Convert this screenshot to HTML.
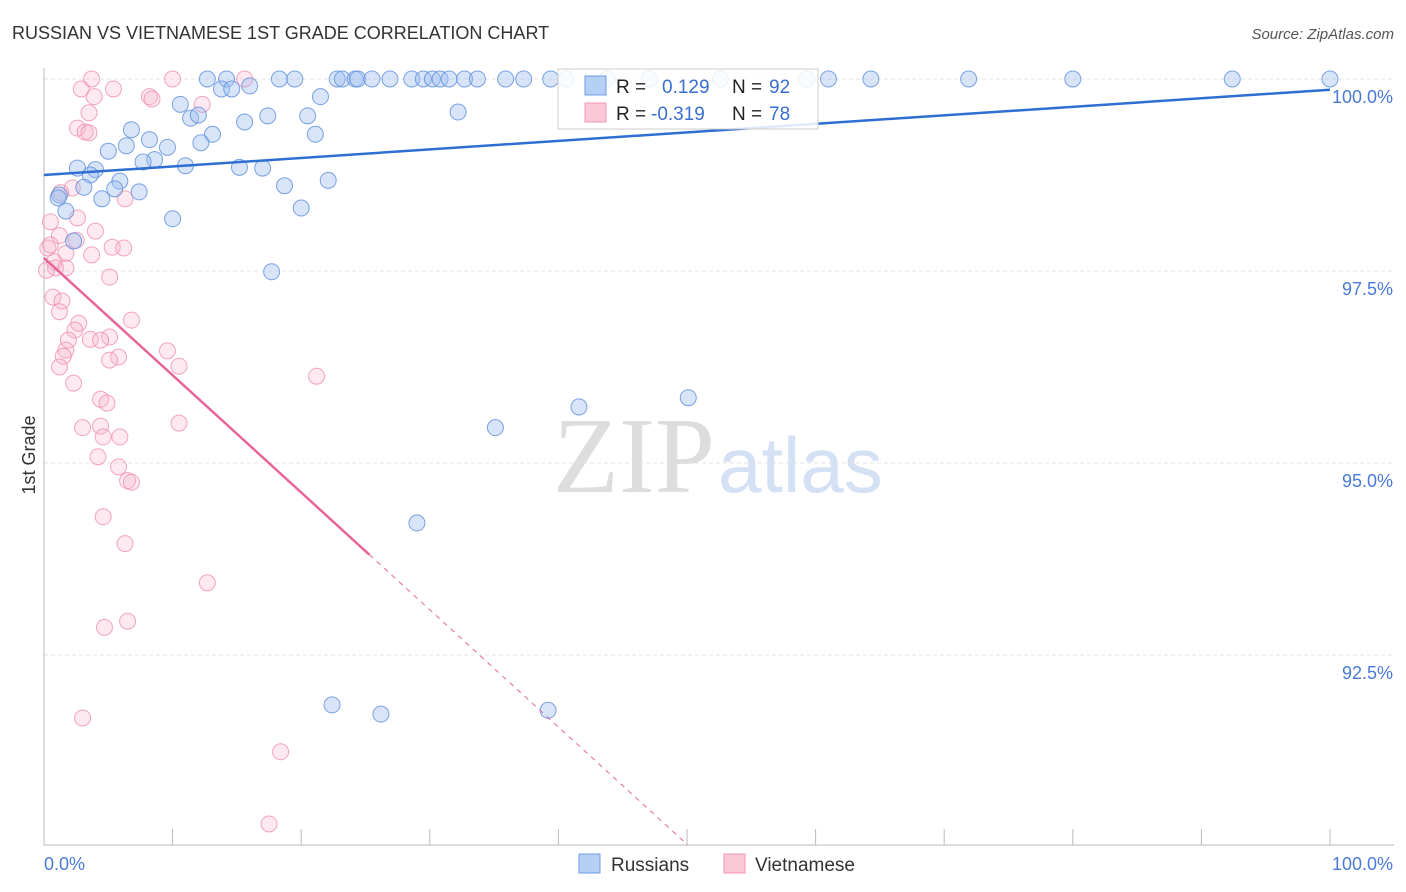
<!DOCTYPE html>
<html><head><meta charset="utf-8"><style>
body{margin:0;background:#fff;font-family:"Liberation Sans",sans-serif;}
svg{display:block}
</style></head><body>
<svg id="chart" width="1406" height="892">
<text x="12" y="39" font-size="18" fill="#333">RUSSIAN VS VIETNAMESE 1ST GRADE CORRELATION CHART</text>
<text x="1394" y="39" font-size="15" fill="#555" font-style="italic" text-anchor="end">Source: ZipAtlas.com</text>
<text x="35" y="455" font-size="18" fill="#333" transform="rotate(-90 35 455)" text-anchor="middle">1st Grade</text>
<g>
<text x="553" y="492" font-size="108" fill="#ddd" font-family="Liberation Serif,serif">ZIP</text>
<text x="718" y="492" font-size="78" fill="#d4e1f5">atlas</text>
</g>
<g id="grid"></g><g id="marks"></g><g id="trends"></g>
<g>
<rect x="558" y="69" width="260" height="60" fill="#fff" fill-opacity="0.85" stroke="#ccc"/>
<rect x="585" y="76" width="21" height="19" fill="#b5cff5" stroke="#6e9ee6"/>
<rect x="585" y="103" width="21" height="19" fill="#fbc8d8" stroke="#f09ab5"/>
<text x="616" y="93" font-size="19" fill="#222">R = </text><text x="662" y="93" font-size="19" fill="#3a6fd0">0.129</text>
<text x="732" y="93" font-size="19" fill="#222">N = </text><text x="769" y="93" font-size="19" fill="#3a6fd0">92</text>
<text x="616" y="120" font-size="19" fill="#222">R = </text><text x="651" y="120" font-size="19" fill="#3a6fd0">-0.319</text>
<text x="732" y="120" font-size="19" fill="#222">N = </text><text x="769" y="120" font-size="19" fill="#3a6fd0">78</text>
</g>
<g>
<rect x="579" y="854" width="21" height="19" fill="#b5cff5" stroke="#6e9ee6"/>
<text x="611" y="871" font-size="19" fill="#333">Russians</text>
<rect x="724" y="854" width="21" height="19" fill="#fbc8d8" stroke="#f09ab5"/>
<text x="755" y="871" font-size="19" fill="#333">Vietnamese</text>
</g>
</svg>
<script>
const yTicks=[100,97.5,95,92.5];
const yTickLabels=["100.0%","97.5%","95.0%","92.5%"];
const xTickVals=[0,10,20,30,40,50,60,70,80,90,100];
const blueX=[12.7,14.2,18.3,19.5,22.8,23.2,24.2,24.4,25.5,26.9,28.6,29.5,30.2,30.8,31.5,32.7,33.7,35.9,37.3,39.4,40.6,43.8,47.1,52.6,59.3,61.0,64.3,71.9,80.0,92.4,100,16.0,13.8,14.6,21.5,10.6,32.2,20.5,17.4,11.4,12.0,15.6,6.8,13.1,21.1,8.2,6.4,9.6,12.2,5.0,8.6,7.7,11.0,2.6,4.0,15.2,17.0,3.6,5.9,22.1,18.7,3.1,5.5,7.4,1.2,1.1,4.5,20.0,1.7,10.0,2.3,17.7,41.6,50.1,35.1,29.0,22.4,26.2,39.2];
const blueY=[100,100,100,100,100,100,100,100,100,100,100,100,100,100,100,100,100,100,100,100,100,100,100,100,100,100,100,100,100,100,100,99.91,99.87,99.87,99.77,99.67,99.57,99.52,99.52,99.49,99.53,99.44,99.34,99.28,99.28,99.21,99.13,99.11,99.17,99.06,98.95,98.92,98.87,98.84,98.82,98.85,98.84,98.75,98.67,98.68,98.61,98.59,98.57,98.53,98.49,98.45,98.44,98.32,98.28,98.18,97.89,97.49,95.73,95.85,95.46,94.22,91.85,91.73,91.78];
const pinkX=[3.7,10.0,15.6,5.4,2.9,3.9,8.2,8.4,12.3,3.5,2.6,3.2,3.5,2.2,6.3,1.3,0.5,2.6,4.0,1.2,2.5,0.3,5.3,6.2,1.7,3.7,0.8,0.9,1.7,5.1,0.7,1.4,1.2,6.8,2.7,2.4,3.6,1.9,5.1,4.4,1.7,1.5,9.6,5.8,5.1,1.2,10.5,21.2,2.3,4.4,4.9,10.5,3.0,4.4,4.6,5.9,4.2,5.8,6.5,6.8,4.6,6.3,12.7,4.7,6.5,3.0,18.4,17.5,0.5,0.2];
const pinkY=[100,100,100,99.87,99.87,99.77,99.77,99.74,99.67,99.56,99.36,99.31,99.30,98.58,98.44,98.52,98.14,98.19,98.02,97.96,97.90,97.80,97.81,97.80,97.73,97.71,97.62,97.54,97.54,97.42,97.16,97.11,96.97,96.86,96.82,96.73,96.61,96.60,96.64,96.60,96.47,96.39,96.46,96.38,96.34,96.25,96.26,96.13,96.04,95.83,95.78,95.52,95.46,95.48,95.34,95.34,95.08,94.95,94.77,94.75,94.30,93.95,93.44,92.86,92.94,91.68,91.24,90.30,97.84,97.51];
const blueTrend=[98.75,99.86];
const pinkTrend=[97.67,82.4];
const pinkSolidEnd=25.3;

const NS="http://www.w3.org/2000/svg";
const X0=44,X1=1330,Y100=79,PX=76.8;
function sx(v){return X0+(X1-X0)*v/100;}
function sy(v){return Y100+(100-v)*PX;}
function mk(tag,attrs,parent){const e=document.createElementNS(NS,tag);for(const k in attrs)e.setAttribute(k,attrs[k]);parent.appendChild(e);return e;}
const grid=document.getElementById('grid');
yTicks.forEach((t,i)=>{
  const l=mk('line',{x1:X0,x2:1394,y1:sy(t),y2:sy(t),stroke:'#e3e3e3','stroke-dasharray':'4,3'},grid);
  
  
  const tx=mk('text',{x:1393,y:sy(t)+24,'font-size':18,fill:'#4a7ad8','text-anchor':'end'},grid);
  tx.textContent=yTickLabels[i];
  
  
});
const ax=mk('line',{x1:X0,x2:X0,y1:68,y2:845,stroke:'#bbb'},grid);


const bx=mk('line',{x1:X0,x2:1394,y1:845,y2:845,stroke:'#bbb'},grid);


xTickVals.forEach(v=>{
  const t=mk('line',{x1:sx(v),x2:sx(v),y1:829,y2:845,stroke:'#bbb'},grid);
  
  
});
const xl0=mk('text',{x:44,y:870,'font-size':18,fill:'#4a7ad8'},grid);xl0.textContent='0.0%';


const xl1=mk('text',{x:1393,y:870,'font-size':18,fill:'#4a7ad8','text-anchor':'end'},grid);xl1.textContent='100.0%';


const marks=document.getElementById('marks');
pinkX.forEach((x,i)=>{
  const c=mk('circle',{cx:sx(x),cy:sy(pinkY[i]),r:8,fill:'#f7b6cb','fill-opacity':0.3,stroke:'#f08fb0','stroke-opacity':0.8},marks);
  
  
});
blueX.forEach((x,i)=>{
  const c=mk('circle',{cx:sx(x),cy:sy(blueY[i]),r:8,fill:'#9dbff0','fill-opacity':0.4,stroke:'#5b8ddc','stroke-opacity':0.8},marks);
  
  
});
const tr=document.getElementById('trends');
const bl=mk('line',{x1:sx(0),y1:sy(blueTrend[0]),x2:sx(100),y2:sy(blueTrend[1]),stroke:'#2f6fd3','stroke-width':2.5},tr);


const pAt=v=>pinkTrend[0]+(pinkTrend[1]-pinkTrend[0])*v/100;
const ps=mk('line',{x1:sx(0),y1:sy(pAt(0)),x2:sx(pinkSolidEnd),y2:sy(pAt(pinkSolidEnd)),stroke:'#e8659a','stroke-width':2.5},tr);


const xEnd=(pinkTrend[0]-(100-(845-Y100)/PX))/(pinkTrend[0]-pinkTrend[1])*100;
const pd=mk('line',{x1:sx(pinkSolidEnd),y1:sy(pAt(pinkSolidEnd)),x2:sx(xEnd),y2:sy(pAt(xEnd)),stroke:'#e8659a','stroke-width':1,'stroke-dasharray':'5,5'},tr);


</script>
</body></html>
